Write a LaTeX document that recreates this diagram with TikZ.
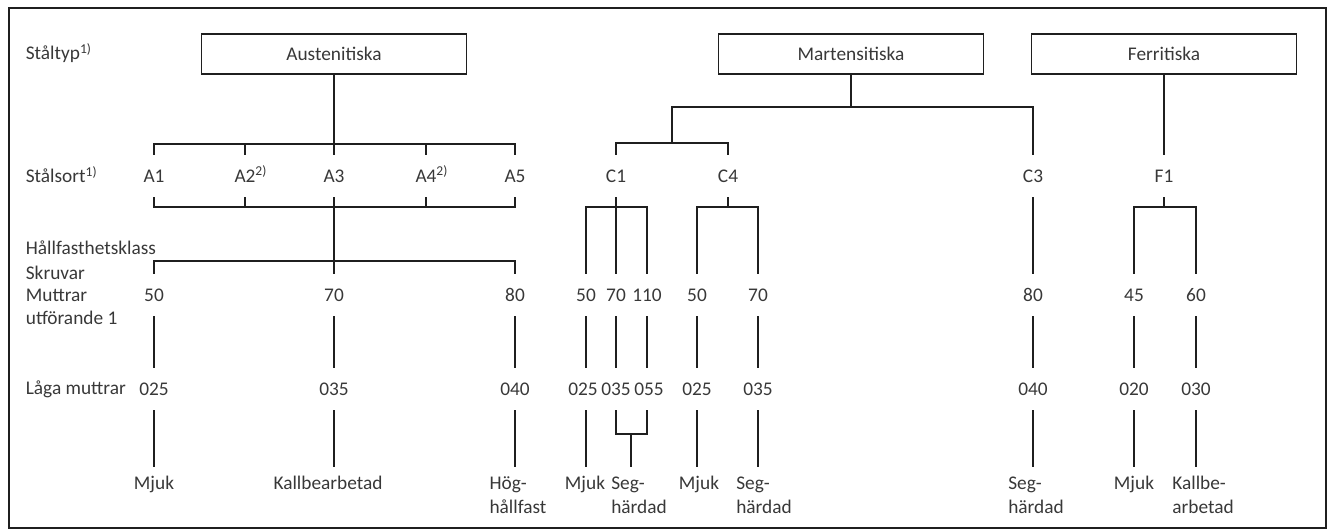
\documentclass[tikz,border=0pt]{standalone}
\usepackage{fontspec}
\setmainfont{Carlito}
\begin{document}
\begin{tikzpicture}[x=0.75pt,y=-0.75pt,line width=1.3pt,color=black!88,
  every node/.style={text=black!78,font=\fontsize{14.5}{18}\selectfont},
  typbox/.style={draw,line width=1.3pt,minimum width=198.75pt,minimum height=30pt,inner sep=0pt},
  tag/.style={inner sep=0pt,text height=9.3pt,text depth=0pt,minimum height=30.75pt},
  eff/.style={align=left,anchor=north,inner xsep=0pt,inner ysep=6.5pt},
  rowlbl/.style={anchor=base west,inner sep=0pt}]
\useasboundingbox (0,0) rectangle (1332,530);
\draw (9,8) rectangle (1326,528);

% steel types
\node[typbox] (aus) at (334,54) {Austenitiska};
\node[typbox] (mar) at (851,54) {Martensitiska};
\node[typbox] (fer) at (1164,54) {Ferritiska};

% row captions
\node[rowlbl] (lbltyp) at (25,60) {Ståltyp\textsuperscript{1)}};
\node[rowlbl] (lblsort) at (25,183) {Stålsort\textsuperscript{1)}};
\node[rowlbl] (lblhf) at (25,255) {Hållfasthetsklass};
\node[rowlbl] (lblskr) at (25,280) {Skruvar};
\node[rowlbl] (lblmut) at (25,302) {Muttrar};
\node[rowlbl] (lblutf) at (25,325) {utförande 1};
\node[rowlbl] (lbllag) at (25,395) {Låga muttrar};

% steel grades
\node[tag] (A1) at (154,176) {A1};
\node[tag] (A2) at (245,176) {A2\rlap{\textsuperscript{2)}}};
\node[tag] (A3) at (334,176) {A3};
\node[tag] (A4) at (426,176) {A4\rlap{\textsuperscript{2)}}};
\node[tag] (A5) at (515,176) {A5};
\node[tag] (C1) at (616,176) {C1};
\node[tag] (C4) at (728,176) {C4};
\node[tag] (C3) at (1033,176) {C3};
\node[tag] (F1) at (1164,176) {F1};

% property classes
\node[tag] (a50) at (154,295) {50};
\node[tag] (a70) at (334,295) {70};
\node[tag] (a80) at (515,295) {80};
\node[tag] (c1n50) at (586,295) {50};
\node[tag] (c1n70) at (616,295) {70};
\node[tag] (c1n110) at (647,295) {110};
\node[tag] (c4n50) at (697,295) {50};
\node[tag] (c4n70) at (758,295) {70};
\node[tag] (c3n80) at (1033,295) {80};
\node[tag] (fn45) at (1134,295) {45};
\node[tag] (fn60) at (1196,295) {60};

% thin nuts
\node[tag] (a025) at (154,389) {025};
\node[tag] (a035) at (334,389) {035};
\node[tag] (a040) at (515,389) {040};
\node[tag] (c1l025) at (583,389) {025};
\node[tag] (c1l035) at (616,389) {035};
\node[tag] (c1l055) at (649,389) {055};
\node[tag] (c4l025) at (697,389) {025};
\node[tag] (c4l035) at (758,389) {035};
\node[tag] (c3l040) at (1033,389) {040};
\node[tag] (fl020) at (1134,389) {020};
\node[tag] (fl030) at (1196,389) {030};

% conditions
\node[eff] (mjA) at (154,467) {Mjuk};
\node[eff] (kallA) at (328,467) {Kallbearbetad};
\node[eff] (hogA) at (518,467) {Hög-\\hållfast};
\node[eff] (mjC1) at (585,467) {Mjuk};
\node[eff] (segC1) at (639,467) {Seg-\\härdad};
\node[eff] (mjC4) at (699,467) {Mjuk};
\node[eff] (segC4) at (764,467) {Seg-\\härdad};
\node[eff] (segC3) at (1036,467) {Seg-\\härdad};
\node[eff] (mjF) at (1134,467) {Mjuk};
\node[eff] (kallF) at (1203,467) {Kallbe-\\arbetad};

% junctions
\coordinate (barA) at (334,144);
\coordinate (barB) at (334,207);
\coordinate (barC) at (334,261);
\coordinate (barM) at (851,107);
\coordinate (barCC) at (672,143);
\coordinate (barC1) at (616,207);
\coordinate (barC4) at (728,207);
\coordinate (barF) at (1164,207);
\coordinate (barS) at (631,434);

% austenitic
\draw (aus.south) -- (barA);
\draw (A1.north) |- (barA) -| (A5.north);
\draw (A2.north) -- (A2.north |- barA);
\draw (A3.north) -- (barA);
\draw (A4.north) -- (A4.north |- barA);
\draw (A1.south) |- (barB) -| (A5.south);
\draw (A2.south) -- (A2.south |- barB);
\draw (A4.south) -- (A4.south |- barB);
\draw (A3.south) -- (barC);
\draw (a50.north) |- (barC) -| (a80.north);
\draw (a70.north) -- (barC);

% martensitic
\draw (mar.south) -- (barM);
\draw (barM) -| (C3.north);
\draw (barM) -| (barCC);
\draw (C1.north) |- (barCC) -| (C4.north);
\draw (C1.south) -- (c1n70.north);
\draw (c1n50.north) |- (barC1) -| (c1n110.north);
\draw (C4.south) -- (barC4);
\draw (c4n50.north) |- (barC4) -| (c4n70.north);
\draw (C3.south) -- (c3n80.north);

% ferritic
\draw (fer.south) -- (F1.north);
\draw (F1.south) -- (barF);
\draw (fn45.north) |- (barF) -| (fn60.north);

% class to thin nut
\foreach \u/\v in {a50/a025,a70/a035,a80/a040,c1n50/c1l025,c1n70/c1l035,c1n110/c1l055,
  c4n50/c4l025,c4n70/c4l035,c3n80/c3l040,fn45/fl020,fn60/fl030}
  \draw (\u.south) -- (\u.south |- \v.north);

% thin nut to condition
\draw (a025.south) -- (a025.south |- mjA.north);
\draw (a035.south) -- (a035.south |- kallA.north);
\draw (a040.south) -- (a040.south |- hogA.north);
\draw (c1n50.south |- c1l025.south) -- (c1n50.south |- mjC1.north);
\draw (c1n70.south |- c1l035.south) |- (barS) -| (c1n110.south |- c1l055.south);
\draw (barS) -- (barS |- segC1.north);
\draw (c4l025.south) -- (c4l025.south |- mjC4.north);
\draw (c4l035.south) -- (c4l035.south |- segC4.north);
\draw (c3l040.south) -- (c3l040.south |- segC3.north);
\draw (fl020.south) -- (fl020.south |- mjF.north);
\draw (fl030.south) -- (fl030.south |- kallF.north);
\end{tikzpicture}
\end{document}
